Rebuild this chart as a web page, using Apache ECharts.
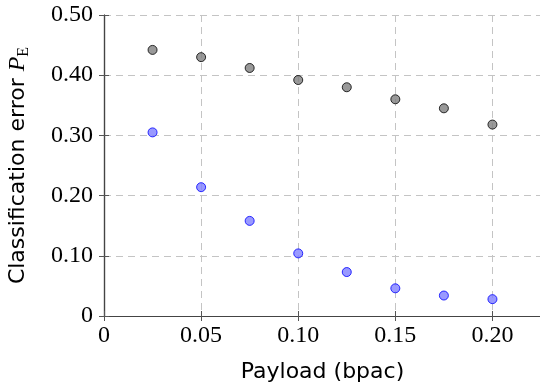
<!DOCTYPE html>
<html>
<head>
<meta charset="utf-8">
<script src="https://cdn.jsdelivr.net/npm/echarts@6/dist/echarts.min.js"></script>
<style>
  html, body { margin: 0; padding: 0; background: #fff; }
  #chart { width: 540px; height: 387px; }
</style>
</head>
<body>
<div id="chart"></div>
<script>
// payload in bpac
const payloads = [0.025, 0.05, 0.075, 0.1, 0.125, 0.15, 0.175, 0.2];
// classification error, gray markers
const errorGray = [0.442, 0.430, 0.412, 0.392, 0.380, 0.360, 0.345, 0.318];
// classification error, blue markers
const errorBlue = [0.305, 0.214, 0.158, 0.104, 0.073, 0.046, 0.034, 0.028];

const xTicks = [0, 0.05, 0.1, 0.15, 0.2];
const yTicks = [0, 0.1, 0.2, 0.3, 0.4, 0.5];

const tickFont = "Liberation Serif";
const labelFont = "DejaVu Sans";

function fmtTick(ticks) {
  return (v) => {
    const hit = ticks.find((t) => Math.abs(t - v) < 1e-9);
    if (hit === undefined) return "";
    return hit === 0 ? "0" : hit.toFixed(2);
  };
}

const gridLine = { show: true, lineStyle: { color: "#c4c4c4", type: [7, 5], width: 1 } };
const frameLine = { show: true, lineStyle: { color: "#444", width: 1.2 } };
const innerTick = { show: true, inside: true, length: 5, lineStyle: { color: "#555", width: 1 } };

const chart = echarts.init(document.getElementById("chart"));
chart.setOption({
  animation: false,
  backgroundColor: "#fff",
  grid: { left: 104, top: 15, width: 437, height: 301, containLabel: false, outerBoundsMode: "none" },
  xAxis: [
    {
      type: "value",
      min: 0,
      max: 0.225,
      interval: 0.05,
      axisLine: frameLine,
      axisTick: innerTick,
      splitLine: gridLine,
      axisLabel: {
        color: "#000",
        fontFamily: tickFont,
        fontSize: 24,
        margin: 8,
        showMaxLabel: false,
        formatter: fmtTick(xTicks),
      },
      name: "Payload (bpac)",
      nameLocation: "middle",
      nameGap: 45,
      nameTextStyle: { color: "#000", fontFamily: labelFont, fontSize: 22 },
    },
    {
      type: "value",
      position: "top",
      min: 0,
      max: 0.225,
      interval: 0.05,
      axisLine: frameLine,
      axisTick: innerTick,
      axisLabel: { show: false },
      splitLine: { show: false },
    },
  ],
  yAxis: [
    {
      type: "value",
      min: 0,
      max: 0.5,
      interval: 0.1,
      axisLine: frameLine,
      axisTick: innerTick,
      splitLine: gridLine,
      axisLabel: {
        color: "#000",
        fontFamily: tickFont,
        fontSize: 24,
        margin: 11,
        formatter: fmtTick(yTicks),
      },
      name: "Classification error {p|P}{e|E}",
      nameLocation: "middle",
      nameRotate: 90,
      nameGap: 72,
      nameTextStyle: {
        color: "#000",
        fontFamily: labelFont,
        fontSize: 22,
        rich: {
          p: { fontFamily: tickFont, fontStyle: "italic", fontSize: 24, color: "#000" },
          e: { fontFamily: tickFont, fontSize: 16, color: "#000", padding: [12, 0, 0, 0] },
        },
      },
    },
    {
      type: "value",
      position: "right",
      min: 0,
      max: 0.5,
      interval: 0.1,
      axisLine: frameLine,
      axisTick: innerTick,
      axisLabel: { show: false },
      splitLine: { show: false },
    },
  ],
  series: [
    {
      type: "scatter",
      data: payloads.map((x, i) => [x, errorGray[i]]),
      symbol: "circle",
      symbolSize: 9,
      itemStyle: { color: "#808080", borderColor: "#000", borderWidth: 1 },
      z: 3,
    },
    {
      type: "scatter",
      data: payloads.map((x, i) => [x, errorBlue[i]]),
      symbol: "circle",
      symbolSize: 9,
      itemStyle: { color: "#7f7fff", borderColor: "#0000ff", borderWidth: 1 },
      z: 3,
    },
  ],
});
</script>
</body>
</html>
